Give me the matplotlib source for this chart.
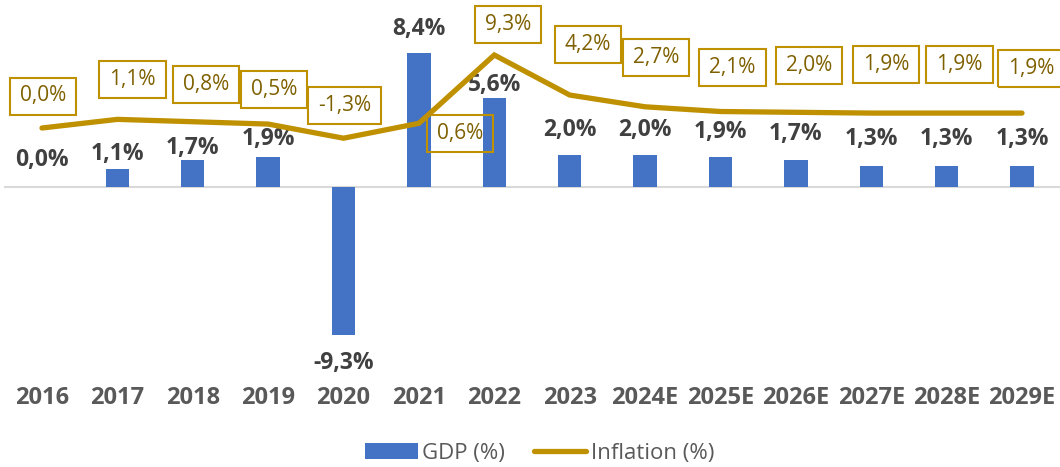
import matplotlib
matplotlib.use("Agg")
import matplotlib.pyplot as plt
import numpy as np
from matplotlib.patches import Patch, Rectangle
from matplotlib.lines import Line2D
from matplotlib.transforms import Affine2D, ScaledTranslation

# ---------------- data ----------------
years = ["2016", "2017", "2018", "2019", "2020", "2021", "2022", "2023",
         "2024E", "2025E", "2026E", "2027E", "2028E", "2029E"]
gdp = [0.0, 1.1, 1.7, 1.9, -9.3, 8.4, 5.6, 2.0, 2.0, 1.9, 1.7, 1.3, 1.3, 1.3]
inflation = [0.0, 1.1, 0.8, 0.5, -1.3, 0.6, 9.3, 4.2, 2.7, 2.1, 2.0, 1.9, 1.9, 1.9]

# label offsets (pixels, +y = up)
gdp_lbl_dy = [27, 15.5, 11.5, 18, -28, 24, 13, 25.5, 25.5, 25, 26, 27, 27, 27]
inf_lbl_off = [(1, 32), (15, 40), (13, 37), (6, 35), (1, 33), (41, -10), (14, 30),
               (18, 51), (11, 49), (12, 44), (13, 47), (15, 49), (13, 49), (9, 45)]

BAR = "#4472C4"
GOLD = "#BF9000"
GOLD_TXT = "#7F6000"
DARK = "#404040"
GRAY = "#595959"
FONT = "Open Sans"

W, H = 1060, 467
fig = plt.figure(figsize=(W / 100, H / 100), dpi=100)
ax_left, ax_right = 4.3, 1059.7
ax_top, ax_bot = 0, 375
ax = fig.add_axes([ax_left / W, 1 - ax_bot / H, (ax_right - ax_left) / W, (ax_bot - ax_top) / H])
ax2 = ax.twinx()

x = np.arange(len(years))
ax.bar(x, gdp, width=0.31, color=BAR, zorder=2)
ax.axhline(0, color="#D9D9D9", lw=1.5, zorder=1)

ax.set_ylim(-(ax_bot - 187) / 15.95, (187 - ax_top) / 15.95)
ax2.set_ylim(-(ax_bot - 128) / 7.85, (128 - ax_top) / 7.85)
ax.set_xlim(-0.5, len(years) - 0.5)

ax2.plot(x, inflation, color=GOLD, lw=3.8, solid_capstyle="round", solid_joinstyle="miter", zorder=3)

for a in (ax, ax2):
    for s in a.spines.values():
        s.set_visible(False)
    a.set_yticks([])

ax.set_xticks(x)
ax.set_xticklabels(years, fontfamily=FONT, fontweight="bold", fontsize=17, color=GRAY)
ax.tick_params(axis="x", length=0, pad=8)

def fmt(v):
    return f"{v:.1f}%".replace(".", ",")

for xi, v, dy in zip(x, gdp, gdp_lbl_dy):
    ax.annotate(fmt(v), (xi, v), xytext=(0, dy * 0.72), textcoords="offset points",
                ha="center", va="center", fontfamily=FONT, fontweight="bold",
                fontsize=16.5, color=DARK, zorder=5)

fig.canvas.draw()
renderer = fig.canvas.get_renderer()
for xi, v, (dx, dy) in zip(x, inflation, inf_lbl_off):
    t = ax2.annotate(fmt(v), (xi, v), xytext=(dx * 0.72, dy * 0.72), textcoords="offset points",
                     ha="center", va="center", fontfamily=FONT, fontsize=15,
                     color=GOLD_TXT, zorder=6)
    bb = t.get_window_extent(renderer)
    w = bb.width + 20
    h = 37
    tr = Affine2D().translate(dx, dy) + ScaledTranslation(xi, v, ax2.transData)
    rect = Rectangle((-w / 2, -h / 2), w, h, transform=tr, fill=False,
                     edgecolor=GOLD, lw=1.5, zorder=6, clip_on=False)
    ax2.add_patch(rect)

handles = [Patch(facecolor=BAR, edgecolor="none"),
           Line2D([0], [0], color=GOLD, lw=3.8, solid_capstyle="round")]
leg = fig.legend(handles, ["GDP (%)", "Inflation (%)"], loc="center",
                 bbox_to_anchor=(540 / W, 1 - 453 / H), ncol=2, frameon=False,
                 prop={"family": FONT, "size": 16}, handlelength=2.35, handleheight=0.7,
                 handletextpad=0.22, columnspacing=1.3)
for t in leg.get_texts():
    t.set_color(GRAY)

fig.savefig("out.png", dpi=100)
